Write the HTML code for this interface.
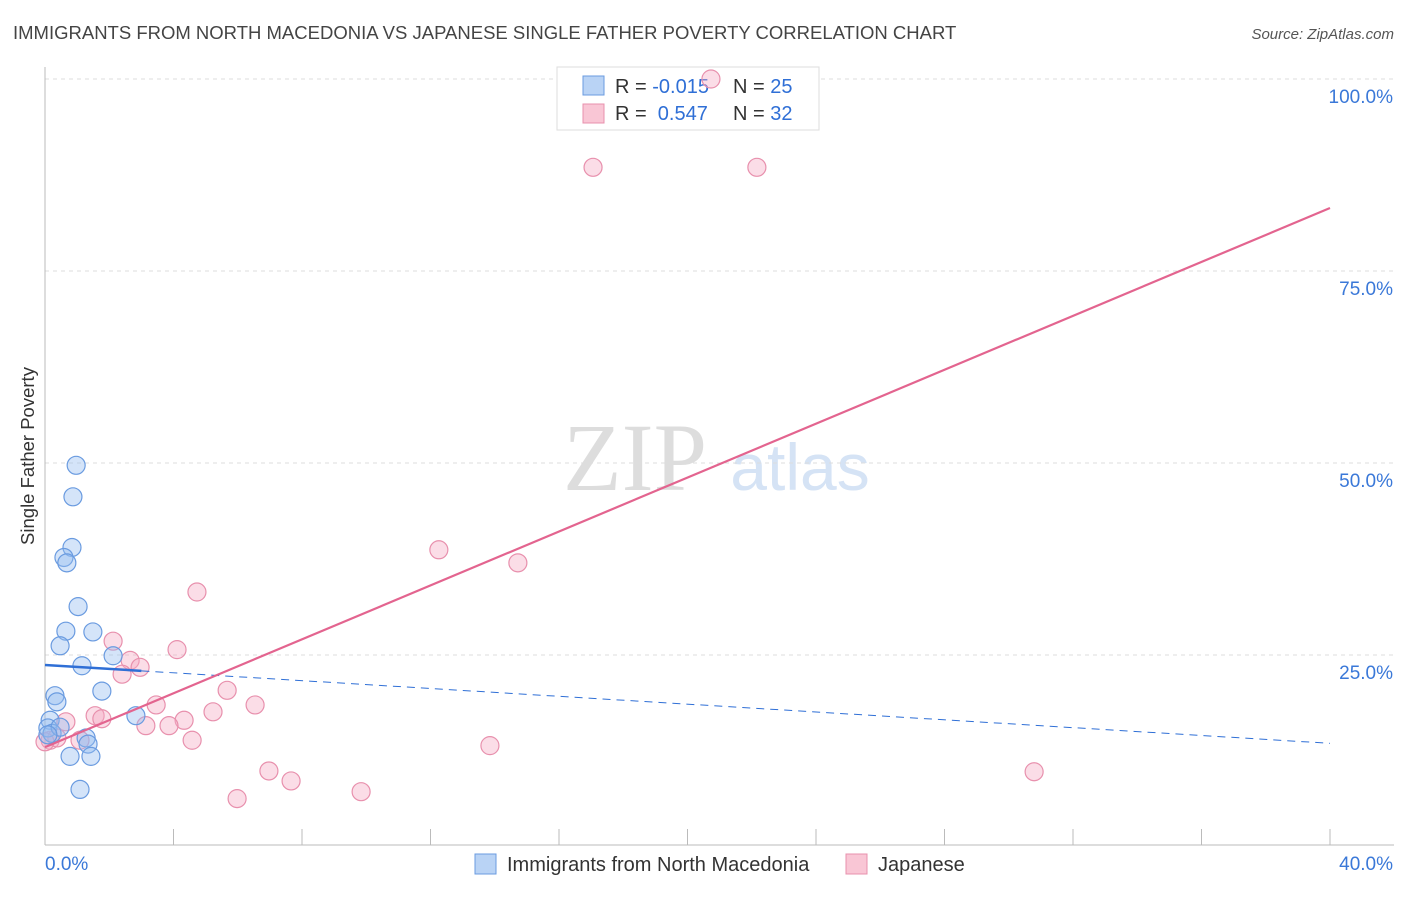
<!DOCTYPE html>
<html><head><meta charset="utf-8"><style>
body{margin:0;background:#fff;font-family:"Liberation Sans",sans-serif;}
</style></head><body>
<svg width="1406" height="892" xmlns="http://www.w3.org/2000/svg" id="chart">
<text x="13" y="39" font-size="18.5" fill="#444">IMMIGRANTS FROM NORTH MACEDONIA VS JAPANESE SINGLE FATHER POVERTY CORRELATION CHART</text>
<text x="1394" y="39" font-size="15" fill="#555" font-style="italic" text-anchor="end">Source: ZipAtlas.com</text>
<text x="34" y="456" font-size="18.5" fill="#333" text-anchor="middle" transform="rotate(-90 34 456)">Single Father Poverty</text>
<g>
<text x="635" y="490" font-size="96" fill="#ddd" font-family="Liberation Serif,serif" text-anchor="middle">ZIP</text>
<text x="800" y="490" font-size="66" fill="#d5e3f5" text-anchor="middle">atlas</text>
</g>
<g id="grid"></g>
<g>
<rect x="557" y="67" width="262" height="63" fill="#fff" stroke="#ddd"/>
<rect x="583" y="76" width="21" height="19" fill="#b9d3f5" stroke="#6a9be0"/>
<text x="615" y="93" font-size="20" fill="#333">R = <tspan fill="#2f6fd6">-0.015</tspan></text>
<text x="733" y="93" font-size="20" fill="#333">N = <tspan fill="#2f6fd6">25</tspan></text>
<rect x="583" y="104" width="21" height="19" fill="#f9c6d5" stroke="#e890ad"/>
<text x="615" y="120" font-size="20" fill="#333">R = <tspan fill="#2f6fd6">&#160;0.547</tspan></text>
<text x="733" y="120" font-size="20" fill="#333">N = <tspan fill="#2f6fd6">32</tspan></text>
</g>
<g id="marks"></g>
<g>
<rect x="475" y="854" width="21" height="20" fill="#b9d3f5" stroke="#6a9be0"/>
<text x="507" y="871" font-size="20" fill="#333">Immigrants from North Macedonia</text>
<rect x="846" y="854" width="21" height="20" fill="#f9c6d5" stroke="#e890ad"/>
<text x="878" y="871" font-size="20" fill="#333">Japanese</text>
</g>
</svg>
<script>
const blueX=[0.97,0.87,0.84,0.59,0.68,1.03,0.65,1.49,0.47,1.15,2.12,0.31,0.37,1.77,2.83,0.16,0.09,0.22,0.47,1.28,1.34,0.78,1.43,1.09,0.09];
const blueY=[49.7,45.6,39.0,37.7,37.0,31.3,28.1,28.0,26.2,23.6,24.9,19.7,18.9,20.3,17.1,16.5,15.5,14.8,15.6,14.2,13.4,11.8,11.8,7.5,14.6];
const pinkX=[17.06,22.16,20.73,12.26,14.72,4.73,2.12,4.11,2.65,2.96,2.40,5.67,3.46,6.54,5.23,4.33,1.56,1.77,3.14,3.86,4.58,0.65,0.16,0.37,13.85,6.97,7.66,5.98,9.84,30.79,1.09,0.0];
const pinkY=[88.5,88.5,100,38.7,37.0,33.2,26.8,25.7,24.3,23.4,22.5,20.4,18.5,18.5,17.6,16.5,17.1,16.7,15.8,15.8,13.9,16.3,13.9,14.2,13.2,9.9,8.6,6.3,7.2,9.8,13.9,13.7];
const blueTrend=[23.7,13.5];
const pinkTrend=[13.0,83.2];
const yTicks=[25,50,75,100];
const xTickLabels=["0.0%","40.0%"];
const NS="http://www.w3.org/2000/svg";
const X=v=>45+v*(1285/40);
const Y=v=>847-v*7.68;
function el(t,a,p){const e=document.createElementNS(NS,t);for(const k in a)e.setAttribute(k,a[k]);p.appendChild(e);return e;}
const grid=document.getElementById('grid'),marks=document.getElementById('marks');
yTicks.forEach(t=>{
 const l=el('line',{x1:45,x2:1394,y1:Y(t),y2:Y(t),stroke:'#ddd','stroke-dasharray':'4,4'},grid);
 
 
 const tx=el('text',{x:1393,y:Y(t)+24,'font-size':19,fill:'#3a78d8','text-anchor':'end'},grid);
 tx.textContent=t.toFixed(1)+'%';
 
 
});
const ax=el('line',{x1:45,x2:1394,y1:845,y2:845,stroke:'#bbb'},grid);


const ay=el('line',{x1:45,x2:45,y1:67,y2:845,stroke:'#bbb'},grid);


for(let i=0;i<=10;i++){const t=el('line',{x1:X(i*4),x2:X(i*4),y1:829,y2:845,stroke:'#bbb'},grid);
 
 }
xTickLabels.forEach((s,i)=>{const t=el('text',{x:i?1393:45,y:870,'font-size':19,fill:'#3a78d8','text-anchor':i?'end':'start'},grid);t.textContent=s;
 
 });
pinkX.forEach((x,i)=>{const c=el('circle',{cx:X(x),cy:Y(pinkY[i]),r:9,fill:'rgba(244,170,195,0.4)',stroke:'#e890ad','stroke-width':1.2},marks);
 
 });
blueX.forEach((x,i)=>{const c=el('circle',{cx:X(x),cy:Y(blueY[i]),r:9,fill:'rgba(147,188,240,0.4)',stroke:'#6a9be0','stroke-width':1.2},marks);
 
 });
const by=x=>blueTrend[0]+(blueTrend[1]-blueTrend[0])*x/40;
const b1=el('line',{x1:X(0),y1:Y(by(0)),x2:X(3),y2:Y(by(3)),stroke:'#2f6fd6','stroke-width':2.5},marks);


const b2=el('line',{x1:X(3),y1:Y(by(3)),x2:X(40),y2:Y(by(40)),stroke:'#2f6fd6','stroke-width':1,'stroke-dasharray':'8,6'},marks);


const p=el('line',{x1:X(0),y1:Y(pinkTrend[0]),x2:X(40),y2:Y(pinkTrend[1]),stroke:'#e3648f','stroke-width':2.2},marks);


</script>
</body></html>
